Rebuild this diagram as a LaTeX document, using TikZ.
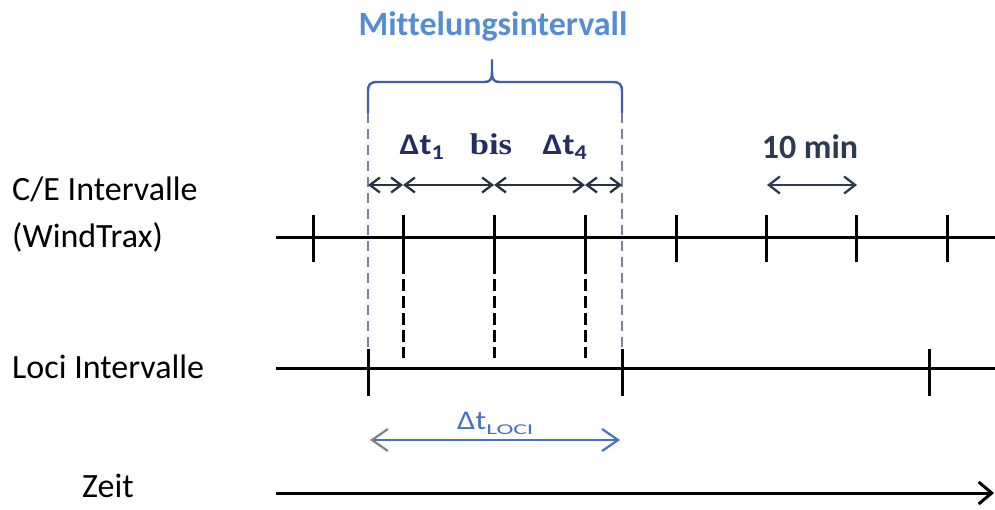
\documentclass[tikz,border=0pt]{standalone}
\usepackage{fontspec}
\setmainfont{Carlito}[Ligatures=NoCommon]
\newfontfamily\bisfont{Liberation Serif}
\usetikzlibrary{arrows.meta}
\definecolor{titleblue}{RGB}{84,141,212}
\definecolor{brackblue}{RGB}{68,94,172}
\definecolor{dashgray}{RGB}{120,130,150}
\definecolor{navy}{RGB}{35,45,95}
\definecolor{slate}{RGB}{45,58,80}
\definecolor{locblue}{RGB}{72,112,196}
\definecolor{arrgray}{RGB}{40,48,66}
\begin{document}
\begin{tikzpicture}[x=1pt,y=-1pt,
  tl/.style={line width=3pt, black},
  tickline/.style={line width=3pt, black},
  blackdash/.style={line width=3pt, black, dash pattern=on 12pt off 5pt},
  graydash/.style={line width=2pt, dashgray, dash pattern=on 10pt off 6pt},
  rowarrow/.style={line width=2.3pt, arrgray, {Straight Barb[length=10pt,width=15pt]}-{Straight Barb[length=10pt,width=15pt]}},
  minarrow/.style={line width=2.3pt, slate, {Straight Barb[length=11pt,width=17pt]}-{Straight Barb[length=11pt,width=17pt]}},
  locarrow/.style={line width=2.2pt, locblue, {Straight Barb[length=16pt,width=22pt,color=gray]}-{Straight Barb[length=16pt,width=22pt]}},
  zeitarrow/.style={line width=3pt, black, -{Straight Barb[length=13pt,width=22pt]}},
  lab/.style={inner sep=0pt, anchor=base west, font=\fontsize{34}{47}\selectfont, align=left},
  boldlab/.style={inner sep=0pt, anchor=base, font=\fontsize{34}{40}\selectfont\bfseries},
  dtlab/.style={inner sep=0pt, anchor=base, text=navy, font=\fontsize{30}{34}\selectfont\bfseries},
  brack/.style={line width=2.4pt, brackblue, line cap=round}
]
\useasboundingbox (0,0) rectangle (995,509);

% labels
\node[lab] (ce) at (12,247) {C/E Intervalle\\(WindTrax)};
\node[lab] (loci) at (12,378) {Loci Intervalle};
\node[lab] (zeit) at (82,497) {Zeit};

% title and bracket
\node[boldlab, text=titleblue] (title) at (493,35) {Mittelungsintervall};
\coordinate (bl) at (368,113);
\coordinate (br) at (622,113);
\coordinate (bpeak) at (492,60);
\draw[brack] (bl) -- (368,92) .. controls (368,84) and (370,82) .. (378,82)
  -- (484,82) .. controls (490,82) and (492,80) .. (492,72) -- (bpeak);
\draw[brack] (492,72) .. controls (492,80) and (494,82) .. (500,82)
  -- (612,82) .. controls (620,82) and (622,84) .. (622,92) -- (br);

% C/E timeline
\coordinate (ceL) at (276,237);
\coordinate (ceR) at (995,237);
\draw[tl] (ceL) -- (ceR);
\foreach \x in {313,403,494,585,676,766,856,947}{
  \coordinate (ct\x) at (\x,215);
  \coordinate (cb\x) at (\x,262);
  \draw[tickline] (ct\x) -- (cb\x);
}
\foreach \x in {403,494,585}{
  \coordinate (cd\x) at (\x,358);
  \draw[blackdash] (cb\x) -- (cd\x);
}

% Loci timeline
\coordinate (lL) at (276,368);
\coordinate (lR) at (995,368);
\draw[tl] (lL) -- (lR);
\foreach \x in {368,622,929}{
  \coordinate (lt\x) at (\x,349);
  \coordinate (lb\x) at (\x,396);
  \draw[tickline] (lt\x) -- (lb\x);
}

% gray dashed interval borders
\draw[graydash] (bl) -- (lt368);
\draw[graydash] (br) -- (lt622);

% row of arrows
\coordinate (a0) at (368,185);
\coordinate (a1) at (403,185);
\coordinate (a2) at (494,185);
\coordinate (a3) at (585,185);
\coordinate (a4) at (622,185);
\draw[rowarrow] (a0) -- (a1);
\draw[rowarrow] (a1) -- (a2);
\draw[rowarrow] (a2) -- (a3);
\draw[rowarrow] (a3) -- (a4);

\node[dtlab] (dt1) at (422,154) {\scalebox{1.15}[1]{Δt\textsubscript{1}}};
\node[dtlab] (bis) at (491,154) {\scalebox{1.15}[1]{\bisfont\bfseries bis}};
\node[dtlab] (dt4) at (565,154) {\scalebox{1.15}[1]{Δt\textsubscript{4}}};

% 10 min
\node[boldlab, text=slate] (tenmin) at (810,158) {10 min};
\coordinate (m0) at (767,185);
\coordinate (m1) at (857,185);
\draw[minarrow] (m0) -- (m1);

% Delta t LOCI
\coordinate (d0) at (370,440);
\coordinate (d1) at (620,440);
\draw[locarrow] (d0) -- (d1);
\node[inner sep=0pt, anchor=base west, text=locblue, font=\fontsize{27}{30}\selectfont] (dtloci) at (457,429)
  {\scalebox{1.2}[1]{Δt}\raisebox{-5pt}{\fontsize{15}{15}\selectfont\scalebox{1.7}[1]{LOCI}}};

% time axis
\coordinate (zL) at (276,493);
\coordinate (zR) at (994,493);
\draw[zeitarrow] (zL) -- (zR);
\end{tikzpicture}
\end{document}
